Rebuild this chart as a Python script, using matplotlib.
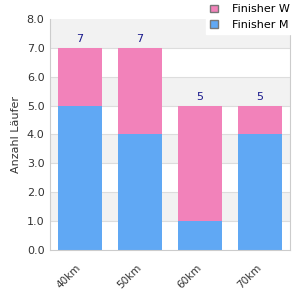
import matplotlib
matplotlib.use("Agg")
import matplotlib.pyplot as plt
from matplotlib.patches import Patch
import matplotlib.transforms as mtransforms

categories = ["40km", "50km", "60km", "70km"]
finisher_m = [5, 4, 1, 4]
finisher_w = [2, 3, 4, 1]
totals = [7, 7, 5, 5]
yticks = [0, 1, 2, 3, 4, 5, 6, 7, 8]

pink = "#F282BA"
blue = "#60A8F4"

fig = plt.figure(figsize=(3, 3), dpi=100)
ax = fig.add_axes([0.1667, 0.1667, 0.8, 0.77])
ax.set_xlim(-0.5, 3.5)
ax.set_ylim(0, 8)

for i in range(len(yticks) - 1):
    if i % 2 == 1:
        ax.axhspan(yticks[i], yticks[i + 1], color="#f2f2f2", zorder=0, lw=0)
for y in yticks[1:-1]:
    ax.axhline(y, color="#dddddd", lw=0.8, zorder=0.5)

x = list(range(len(categories)))
ax.bar(x, finisher_m, width=0.72, color=blue, zorder=2)
ax.bar(x, finisher_w, bottom=finisher_m, width=0.72, color=pink, zorder=2)
for xi, t in zip(x, totals):
    ax.text(xi, t + 0.12, str(t), ha="center", va="bottom", fontsize=8, color="#1a1a8c")

ax.set_yticks(yticks)
ax.set_yticklabels([f"{v:.1f}" for v in yticks], fontsize=8, color="#333333")
ax.set_xticks(x)
ax.set_xticklabels(categories, rotation=45, ha="right", rotation_mode="anchor", fontsize=7.5, color="#333333")
ax.tick_params(length=0, pad=4)
ax.tick_params(axis="x", pad=9)
off = mtransforms.ScaledTranslation(-4 / 100, 0, fig.dpi_scale_trans)
for lab in ax.get_xticklabels():
    lab.set_transform(lab.get_transform() + off)
ax.set_ylabel("Anzahl Läufer", fontsize=8, color="#333333")
for s in ["left", "bottom", "right"]:
    ax.spines[s].set_color("#cccccc")
ax.spines["top"].set_visible(False)

handles = [Patch(facecolor=pink, edgecolor="#777777"), Patch(facecolor=blue, edgecolor="#777777")]
leg = fig.legend(handles, ["Finisher W", "Finisher M"], loc="upper left", bbox_to_anchor=(0.685, 1.0),
                 fontsize=8, frameon=True, fancybox=False, framealpha=1, edgecolor="white",
                 handlelength=0.7, handleheight=0.7, borderpad=0.4, labelspacing=0.5,
                 handletextpad=1.3, borderaxespad=0.0)
leg.set_zorder(10)

fig.savefig("out.png", dpi=100)
